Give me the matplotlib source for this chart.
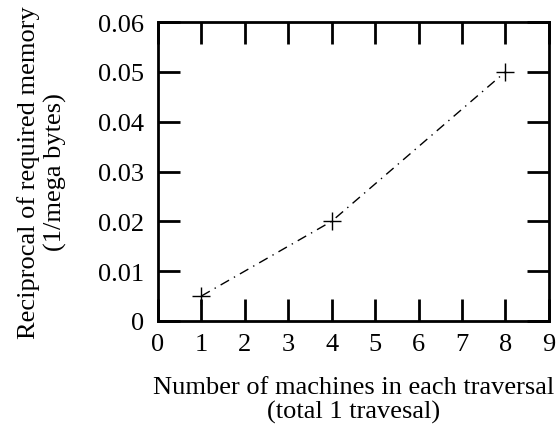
import matplotlib.pyplot as plt

machines = [1, 4, 8]
recip_memory = [0.005, 0.02, 0.05]
x_ticks = [0, 1, 2, 3, 4, 5, 6, 7, 8, 9]
y_ticks = [0, 0.01, 0.02, 0.03, 0.04, 0.05, 0.06]
y_tick_labels = ['0', '0.01', '0.02', '0.03', '0.04', '0.05', '0.06']

plt.rcParams['font.family'] = ['Liberation Serif', 'DejaVu Serif']
plt.rcParams['font.size'] = 19

fig = plt.figure(figsize=(5.6, 4.27), dpi=100)
ax = fig.add_axes([0.282, 0.246, 0.698, 0.700])

ax.plot(machines, recip_memory, color='black', linestyle=(0, (7, 4, 1, 4)),
        linewidth=1.0, marker='+', markersize=13, markeredgewidth=1.0)

ax.set_xlim(0, 9)
ax.set_ylim(0, 0.06)
ax.set_xticks(x_ticks)
ax.set_yticks(y_ticks)
ax.set_yticklabels(y_tick_labels)

ax.tick_params(direction='in', length=16, width=2, top=True, right=True)
ax.tick_params(axis='x', pad=9)
ax.tick_params(axis='y', pad=10)
for s in ax.spines.values():
    s.set_linewidth(2)

ax.set_xlabel('Number of machines in each traversal\n(total 1 travesal)',
              linespacing=1.08, labelpad=15)
ax.set_ylabel('Reciprocal of required memory\n(1/mega bytes)',
              linespacing=1.22, labelpad=22)

fig.savefig('out.png', dpi=100)
